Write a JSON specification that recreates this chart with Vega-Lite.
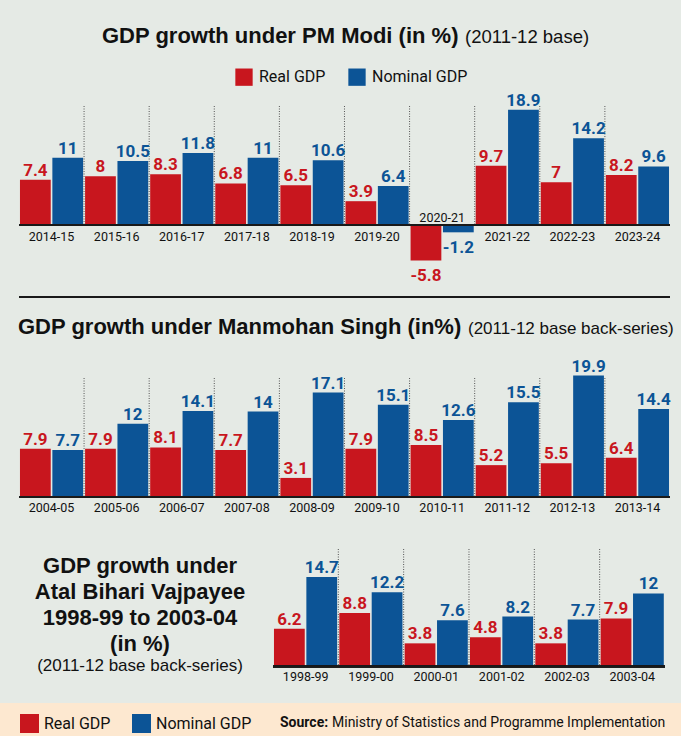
{
  "$schema": "https://vega.github.io/schema/vega-lite/v6.json",
  "background": "#e5eae5",
  "padding": 0,
  "spacing": 0,
  "datasets": {
    "modi": [
      {"year": "2014-15", "series": "Real GDP", "value": 7.4}, {"year": "2014-15", "series": "Nominal GDP", "value": 11},
      {"year": "2015-16", "series": "Real GDP", "value": 8}, {"year": "2015-16", "series": "Nominal GDP", "value": 10.5},
      {"year": "2016-17", "series": "Real GDP", "value": 8.3}, {"year": "2016-17", "series": "Nominal GDP", "value": 11.8},
      {"year": "2017-18", "series": "Real GDP", "value": 6.8}, {"year": "2017-18", "series": "Nominal GDP", "value": 11},
      {"year": "2018-19", "series": "Real GDP", "value": 6.5}, {"year": "2018-19", "series": "Nominal GDP", "value": 10.6},
      {"year": "2019-20", "series": "Real GDP", "value": 3.9}, {"year": "2019-20", "series": "Nominal GDP", "value": 6.4},
      {"year": "2020-21", "series": "Real GDP", "value": -5.8}, {"year": "2020-21", "series": "Nominal GDP", "value": -1.2},
      {"year": "2021-22", "series": "Real GDP", "value": 9.7}, {"year": "2021-22", "series": "Nominal GDP", "value": 18.9},
      {"year": "2022-23", "series": "Real GDP", "value": 7}, {"year": "2022-23", "series": "Nominal GDP", "value": 14.2},
      {"year": "2023-24", "series": "Real GDP", "value": 8.2}, {"year": "2023-24", "series": "Nominal GDP", "value": 9.6}
    ],
    "mms": [
      {"year": "2004-05", "series": "Real GDP", "value": 7.9}, {"year": "2004-05", "series": "Nominal GDP", "value": 7.7},
      {"year": "2005-06", "series": "Real GDP", "value": 7.9}, {"year": "2005-06", "series": "Nominal GDP", "value": 12},
      {"year": "2006-07", "series": "Real GDP", "value": 8.1}, {"year": "2006-07", "series": "Nominal GDP", "value": 14.1},
      {"year": "2007-08", "series": "Real GDP", "value": 7.7}, {"year": "2007-08", "series": "Nominal GDP", "value": 14},
      {"year": "2008-09", "series": "Real GDP", "value": 3.1}, {"year": "2008-09", "series": "Nominal GDP", "value": 17.1},
      {"year": "2009-10", "series": "Real GDP", "value": 7.9}, {"year": "2009-10", "series": "Nominal GDP", "value": 15.1},
      {"year": "2010-11", "series": "Real GDP", "value": 8.5}, {"year": "2010-11", "series": "Nominal GDP", "value": 12.6},
      {"year": "2011-12", "series": "Real GDP", "value": 5.2}, {"year": "2011-12", "series": "Nominal GDP", "value": 15.5},
      {"year": "2012-13", "series": "Real GDP", "value": 5.5}, {"year": "2012-13", "series": "Nominal GDP", "value": 19.9},
      {"year": "2013-14", "series": "Real GDP", "value": 6.4}, {"year": "2013-14", "series": "Nominal GDP", "value": 14.4}
    ],
    "abv": [
      {"year": "1998-99", "series": "Real GDP", "value": 6.2}, {"year": "1998-99", "series": "Nominal GDP", "value": 14.7},
      {"year": "1999-00", "series": "Real GDP", "value": 8.8}, {"year": "1999-00", "series": "Nominal GDP", "value": 12.2},
      {"year": "2000-01", "series": "Real GDP", "value": 3.8}, {"year": "2000-01", "series": "Nominal GDP", "value": 7.6},
      {"year": "2001-02", "series": "Real GDP", "value": 4.8}, {"year": "2001-02", "series": "Nominal GDP", "value": 8.2},
      {"year": "2002-03", "series": "Real GDP", "value": 3.8}, {"year": "2002-03", "series": "Nominal GDP", "value": 7.7},
      {"year": "2003-04", "series": "Real GDP", "value": 7.9}, {"year": "2003-04", "series": "Nominal GDP", "value": 12}
    ]
  },
  "vconcat": [
    {
      "spacing": 21,
      "resolve": {"scale": {"color": "independent"}, "legend": {"color": "independent"}},
      "vconcat": [
        {
          "spacing": 6,
          "hconcat": [
            {
              "width": 1, "height": 1,
              "data": {"values": [{"a": 1}]},
              "mark": {"type": "point", "opacity": 0, "size": 0},
              "title": {"text": "GDP growth under PM Modi (in %)", "orient": "bottom", "anchor": "start", "offset": 42, "dx": 102, "baseline": "alphabetic", "font": "Liberation Sans", "fontWeight": "bold", "fontSize": 22, "color": "#111111"}
            },
            {
              "width": 1, "height": 1,
              "data": {"values": [{"a": 1}]},
              "mark": {"type": "point", "opacity": 0, "size": 0},
              "title": {"text": "(2011-12 base)", "orient": "bottom", "anchor": "start", "offset": 42, "baseline": "alphabetic", "font": "Liberation Sans", "fontWeight": "normal", "fontSize": 18.5, "color": "#111111"}
            }
          ]
        },
        {
          "spacing": 10,
          "resolve": {"scale": {"color": "independent"}, "legend": {"color": "independent"}},
          "hconcat": [
            {
              "width": 8, "height": 1,
              "data": {"values": [{"a": 1}]},
              "mark": {"type": "point", "opacity": 0, "size": 0}
            },
            {
              "data": {"name": "modi"},
              "width": 651,
              "height": 191,
              "encoding": {
                "x": {"field": "year", "type": "nominal", "sort": null, "scale": {"paddingInner": 0.03, "paddingOuter": 0.015}, "axis": null}
              },
              "layer": [
                {
                  "mark": {"type": "bar"},
                  "encoding": {
                    "xOffset": {"field": "series", "type": "nominal", "scale": {"domain": ["Real GDP", "Nominal GDP"], "paddingInner": 0.05}},
                    "y": {"field": "value", "type": "quantitative", "scale": {"domain": [-11.8, 19.5], "nice": false}, "axis": null},
                    "color": {"field": "series", "type": "nominal", "scale": {"domain": ["Real GDP", "Nominal GDP"], "range": ["#c8161e", "#0c5496"]},
                      "legend": {"orient": "none", "legendX": 216, "legendY": -38, "direction": "horizontal", "title": null, "symbolType": "square", "symbolSize": 300, "symbolStrokeWidth": 0, "symbolOpacity": 1, "labelFont": "Roboto", "labelFontSize": 16, "labelColor": "#111111", "labelOffset": 6, "columnPadding": 22}}
                  }
                },
                {
                  "transform": [{"filter": "datum.series == 'Real GDP' && datum.year != '2014-15'"}],
                  "mark": {"type": "rule", "strokeDash": [1, 1.5], "color": "#555555", "strokeWidth": 1, "xOffset": -1},
                  "encoding": {
                    "x": {"field": "year", "type": "nominal", "sort": null, "bandPosition": 0},
                    "y": {"datum": 19.5},
                    "y2": {"datum": 0}
                  }
                },
                {"mark": {"type": "rule", "color": "#1a1a1a", "strokeWidth": 1.5}, "encoding": {"x": null, "y": {"datum": 0}}},
                {"mark": {"type": "rule", "color": "#1a1a1a", "strokeWidth": 1.5}, "encoding": {"x": null, "y": {"datum": -11.8}}},
                {
                  "transform": [{"filter": "datum.value >= 0"}],
                  "mark": {"type": "text", "font": "Roboto", "fontWeight": "bold", "fontSize": 17, "baseline": "alphabetic", "dy": -4},
                  "encoding": {
                    "xOffset": {"field": "series", "type": "nominal"},
                    "y": {"field": "value", "type": "quantitative"},
                    "text": {"field": "value", "type": "nominal"},
                    "color": {"field": "series", "type": "nominal"}
                  }
                },
                {
                  "transform": [{"filter": "datum.value < 0"}],
                  "mark": {"type": "text", "font": "Roboto", "fontWeight": "bold", "fontSize": 17, "baseline": "top", "dy": 8},
                  "encoding": {
                    "xOffset": {"field": "series", "type": "nominal"},
                    "y": {"field": "value", "type": "quantitative"},
                    "text": {"field": "value", "type": "nominal"},
                    "color": {"field": "series", "type": "nominal"}
                  }
                },
                {
                  "transform": [{"filter": "datum.series == 'Real GDP' && datum.year != '2020-21'"}],
                  "mark": {"type": "text", "font": "Roboto", "fontSize": 12.5, "color": "#111111", "baseline": "top", "dy": 6},
                  "encoding": {"y": {"datum": 0}, "text": {"field": "year", "type": "nominal"}}
                },
                {
                  "transform": [{"filter": "datum.series == 'Real GDP' && datum.year == '2020-21'"}],
                  "mark": {"type": "text", "font": "Roboto", "fontSize": 12.5, "color": "#111111", "baseline": "alphabetic", "dy": -3},
                  "encoding": {"y": {"datum": 0}, "text": {"field": "year", "type": "nominal"}}
                }
              ]
            }
          ]
        }
      ]
    },
    {
      "spacing": 19,
      "vconcat": [
        {
          "spacing": 6,
          "hconcat": [
            {
              "width": 1, "height": 1,
              "data": {"values": [{"a": 1}]},
              "mark": {"type": "point", "opacity": 0, "size": 0},
              "title": {"text": "GDP growth under Manmohan Singh (in%)", "orient": "bottom", "anchor": "start", "offset": 35, "dx": 18, "baseline": "alphabetic", "font": "Liberation Sans", "fontWeight": "bold", "fontSize": 22, "color": "#111111"}
            },
            {
              "width": 1, "height": 1,
              "data": {"values": [{"a": 1}]},
              "mark": {"type": "point", "opacity": 0, "size": 0},
              "title": {"text": "(2011-12 base back-series)", "orient": "bottom", "anchor": "start", "offset": 35, "baseline": "alphabetic", "font": "Liberation Sans", "fontWeight": "normal", "fontSize": 17, "color": "#111111"}
            }
          ]
        },
        {
          "spacing": 10,
          "hconcat": [
            {
              "width": 8, "height": 1,
              "data": {"values": [{"a": 1}]},
              "mark": {"type": "point", "opacity": 0, "size": 0}
            },
            {
              "data": {"name": "mms"},
              "width": 651,
              "height": 170,
              "encoding": {
                "x": {"field": "year", "type": "nominal", "sort": null, "scale": {"paddingInner": 0.03, "paddingOuter": 0.015}, "axis": null}
              },
              "layer": [
                {
                  "mark": {"type": "bar"},
                  "encoding": {
                    "xOffset": {"field": "series", "type": "nominal", "scale": {"domain": ["Real GDP", "Nominal GDP"], "paddingInner": 0.05}},
                    "y": {"field": "value", "type": "quantitative", "scale": {"domain": [-8.4, 19.5], "nice": false}, "axis": null},
                    "color": {"field": "series", "type": "nominal", "scale": {"domain": ["Real GDP", "Nominal GDP"], "range": ["#c8161e", "#0c5496"]}, "legend": null}
                  }
                },
                {
                  "transform": [{"filter": "datum.series == 'Real GDP' && datum.year != '2004-05'"}],
                  "mark": {"type": "rule", "strokeDash": [1, 1.5], "color": "#555555", "strokeWidth": 1, "xOffset": -1},
                  "encoding": {
                    "x": {"field": "year", "type": "nominal", "sort": null, "bandPosition": 0},
                    "y": {"datum": 19.5},
                    "y2": {"datum": 0}
                  }
                },
                {"mark": {"type": "rule", "color": "#1a1a1a", "strokeWidth": 1.5}, "encoding": {"x": null, "y": {"datum": 0}}},
                {
                  "mark": {"type": "text", "font": "Roboto", "fontWeight": "bold", "fontSize": 17, "baseline": "alphabetic", "dy": -4},
                  "encoding": {
                    "xOffset": {"field": "series", "type": "nominal"},
                    "y": {"field": "value", "type": "quantitative"},
                    "text": {"field": "value", "type": "nominal"},
                    "color": {"field": "series", "type": "nominal", "legend": null}
                  }
                },
                {
                  "transform": [{"filter": "datum.series == 'Real GDP'"}],
                  "mark": {"type": "text", "font": "Roboto", "fontSize": 12.5, "color": "#111111", "baseline": "top", "dy": 5},
                  "encoding": {"y": {"datum": 0}, "text": {"field": "year", "type": "nominal"}}
                }
              ]
            }
          ]
        }
      ]
    },
    {
      "spacing": 10,
      "hconcat": [
        {
          "width": 262, "height": 10,
          "data": {"values": [{"a": 1}]},
          "mark": {"type": "point", "opacity": 0, "size": 0},
          "title": {
            "text": ["GDP growth under", "Atal Bihari Vajpayee", "1998-99 to 2003-04", "(in %)"],
            "subtitle": "(2011-12 base back-series)",
            "orient": "bottom", "anchor": "middle", "offset": 14, "dx": 9,
            "baseline": "alphabetic", "lineHeight": 26,
            "font": "Liberation Sans", "fontWeight": "bold", "fontSize": 22, "color": "#111111",
            "subtitleFont": "Liberation Sans", "subtitleFontSize": 17, "subtitleColor": "#111111", "subtitlePadding": -2
          }
        },
        {
          "data": {"name": "abv"},
          "width": 392,
          "height": 154,
          "encoding": {
            "x": {"field": "year", "type": "nominal", "sort": null, "scale": {"paddingInner": 0.03, "paddingOuter": 0.015}, "axis": null}
          },
          "layer": [
            {
              "mark": {"type": "bar"},
              "encoding": {
                "xOffset": {"field": "series", "type": "nominal", "scale": {"domain": ["Real GDP", "Nominal GDP"], "paddingInner": 0.05}},
                "y": {"field": "value", "type": "quantitative", "scale": {"domain": [-6, 19.3], "nice": false}, "axis": null},
                "color": {"field": "series", "type": "nominal", "scale": {"domain": ["Real GDP", "Nominal GDP"], "range": ["#c8161e", "#0c5496"]}, "legend": null}
              }
            },
            {
              "transform": [{"filter": "datum.series == 'Real GDP' && datum.year != '1998-99'"}],
              "mark": {"type": "rule", "strokeDash": [1, 1.5], "color": "#555555", "strokeWidth": 1, "xOffset": -1},
              "encoding": {
                "x": {"field": "year", "type": "nominal", "sort": null, "bandPosition": 0},
                "y": {"datum": 19.3},
                "y2": {"datum": 0}
              }
            },
            {"mark": {"type": "rule", "color": "#1a1a1a", "strokeWidth": 1.5}, "encoding": {"x": null, "y": {"datum": 0}}},
            {
              "mark": {"type": "text", "font": "Roboto", "fontWeight": "bold", "fontSize": 17, "baseline": "alphabetic", "dy": -4},
              "encoding": {
                "xOffset": {"field": "series", "type": "nominal"},
                "y": {"field": "value", "type": "quantitative"},
                "text": {"field": "value", "type": "nominal"},
                "color": {"field": "series", "type": "nominal", "legend": null}
              }
            },
            {
              "transform": [{"filter": "datum.series == 'Real GDP'"}],
              "mark": {"type": "text", "font": "Roboto", "fontSize": 12.5, "color": "#111111", "baseline": "top", "dy": 5},
              "encoding": {"y": {"datum": 0}, "text": {"field": "year", "type": "nominal"}}
            }
          ]
        }
      ]
    },
    {
      "width": 681,
      "height": 37,
      "view": {"fill": "#fde8d0", "stroke": null},
      "data": {"values": [
        {"series": "Real GDP", "src": "Ministry of Statistics and Programme Implementation"},
        {"series": "Nominal GDP", "src": "Ministry of Statistics and Programme Implementation"}
      ]},
      "mark": {"type": "point", "filled": true, "opacity": 0, "size": 0},
      "encoding": {
        "color": {"field": "series", "type": "nominal", "scale": {"domain": ["Real GDP", "Nominal GDP"], "range": ["#c8161e", "#0c5496"]},
          "legend": {"orient": "none", "legendX": 20, "legendY": 11, "direction": "horizontal", "title": null, "symbolType": "square", "symbolSize": 361, "symbolStrokeWidth": 0, "symbolOpacity": 1, "labelFont": "Roboto", "labelFontSize": 16, "labelColor": "#111111", "labelOffset": 5, "columnPadding": 21}},
        "shape": {"field": "src", "type": "nominal",
          "legend": {"orient": "none", "legendX": 280, "legendY": 13, "title": "Source:", "titleOrient": "left", "titleFont": "Roboto", "titleFontWeight": "bold", "titleFontSize": 14, "titleColor": "#111111", "titlePadding": 4, "labelFont": "Roboto", "labelFontSize": 14, "labelColor": "#111111", "labelLimit": 500, "symbolOpacity": 0, "symbolSize": 0, "symbolStrokeWidth": 0, "labelOffset": -15}}
      }
    }
  ],
  "resolve": {"scale": {"color": "independent", "shape": "independent"}, "legend": {"color": "independent", "shape": "independent"}},
  "config": {
    "view": {"stroke": null}
  }
}
